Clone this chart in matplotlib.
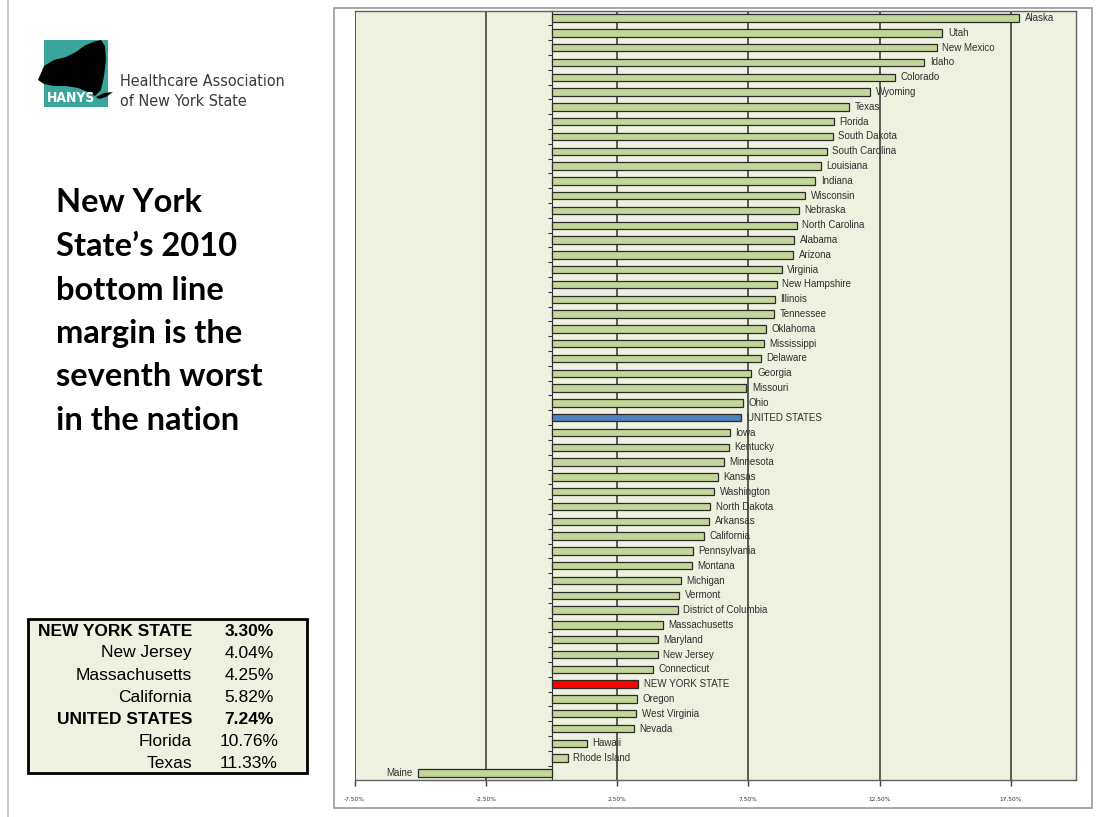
import numpy as np
import matplotlib.pyplot as plt
import matplotlib.patches as mpatches

# data (percent margin, 2010)
states = ["Alaska", "Utah", "New Mexico", "Idaho", "Colorado", "Wyoming", "Texas",
          "Florida", "South Dakota", "South Carolina", "Louisiana", "Indiana",
          "Wisconsin", "Nebraska", "North Carolina", "Alabama", "Arizona", "Virginia",
          "New Hampshire", "Illinois", "Tennessee", "Oklahoma", "Mississippi",
          "Delaware", "Georgia", "Missouri", "Ohio", "UNITED STATES", "Iowa",
          "Kentucky", "Minnesota", "Kansas", "Washington", "North Dakota", "Arkansas",
          "California", "Pennsylvania", "Montana", "Michigan", "Vermont",
          "District of Columbia", "Massachusetts", "Maryland", "New Jersey",
          "Connecticut", "NEW YORK STATE", "Oregon", "West Virginia", "Nevada",
          "Hawaii", "Rhode Island", "Maine"]
margins = [17.83, 14.89, 14.68, 14.20, 13.09, 12.14, 11.33,
           10.76, 10.72, 10.49, 10.26, 10.05,
           9.66, 9.42, 9.34, 9.24, 9.22, 8.77,
           8.58, 8.50, 8.47, 8.17, 8.10,
           7.98, 7.62, 7.43, 7.30, 7.24, 6.80,
           6.76, 6.58, 6.35, 6.20, 6.04, 6.00,
           5.82, 5.38, 5.36, 4.92, 4.86,
           4.81, 4.25, 4.06, 4.04,
           3.86, 3.30, 3.27, 3.22, 3.13,
           1.34, 0.62, -5.08]

table_names = ["NEW YORK STATE", "New Jersey", "Massachusetts", "California",
               "UNITED STATES", "Florida", "Texas"]
table_vals = ["3.30%", "4.04%", "4.25%", "5.82%", "7.24%", "10.76%", "11.33%"]
table_bold = [True, False, False, False, True, False, False]

heading = ["New York", "State\u2019s 2010", "bottom line", "margin is the",
           "seventh worst", "in the nation"]

xticks = [-7.5, -2.5, 2.5, 7.5, 12.5, 17.5]

W, H = 1102, 817
fig = plt.figure(figsize=(W / 100, H / 100), dpi=100)
fig.patch.set_facecolor("white")


def fx(px):
    return px / W


def fy(py):
    return 1 - py / H


# slide edge and chart frame
fig.add_artist(plt.Line2D([fx(8), fx(8)], [0, 1], color="#c8c8c8", lw=1.5))
fig.add_artist(mpatches.Rectangle((fx(334), fy(808)), fx(1092 - 334), (808 - 8) / H,
                                  transform=fig.transFigure, fill=False,
                                  edgecolor="#9a9a9a", lw=1.2))

ax = fig.add_axes([fx(354.7), fy(780.4), fx(1076.3 - 354.7), (780.4 - 10.6) / H])
ax.set_facecolor("#eef0e0")

y = np.arange(len(states))
colors = []
for s in states:
    if s == "UNITED STATES":
        colors.append("#4f81bd")
    elif s == "NEW YORK STATE":
        colors.append("#ff0000")
    else:
        colors.append("#c4d79b")
ax.barh(y, margins, height=0.5, color=colors, edgecolor="#2b2b2b", linewidth=0.9,
        zorder=3)

for yi, v, s in zip(y, margins, states):
    if v >= 0:
        ax.annotate(s, (v, yi), xytext=(4, 0), textcoords="offset points",
                    ha="left", va="center", fontsize=7, color="#303030",
                    family="Liberation Sans", zorder=4)
    else:
        ax.annotate(s, (v, yi), xytext=(-4, 0), textcoords="offset points",
                    ha="right", va="center", fontsize=7, color="#303030",
                    family="Liberation Sans", zorder=4)

ax.set_xlim(-7.5, 20)
ax.set_ylim(len(states) - 0.5, -0.5)
ax.set_xticks(xticks)
ax.set_xticklabels(["%.2f%%" % t for t in xticks], fontsize=4.2, color="#303030")
ax.tick_params(axis="x", length=4, width=1, color="#404040", pad=8)
ax.grid(axis="x", color="#404040", lw=1.2, zorder=1)
ax.set_axisbelow(True)

ax.spines["left"].set_position(("data", 0))
ax.spines["left"].set_color("#303030")
ax.spines["left"].set_zorder(2)
ax.set_yticks(np.arange(-0.5, len(states), 1.0))
ax.set_yticklabels([])
ax.tick_params(axis="y", length=3, width=0.8, color="#303030", direction="out")
for sp in ["top", "right", "bottom"]:
    ax.spines[sp].set_color("#606060")
    ax.spines[sp].set_linewidth(1)

# logo
fig.add_artist(mpatches.Rectangle((fx(44), fy(107)), fx(64), 67 / H,
                                  transform=fig.transFigure, color="#3aa59a", lw=0))
ny_shape = [(38, 80), (44, 66), (54, 60), (66, 57), (76, 52), (84, 46), (93, 42),
            (101, 40), (105, 46), (106, 60), (104, 76), (101, 90), (95, 96),
            (88, 92), (78, 88), (66, 86), (54, 86), (44, 84)]
fig.add_artist(mpatches.Polygon([(fx(a), fy(b)) for a, b in ny_shape],
                                transform=fig.transFigure, color="black", lw=0))
leaf = [(96, 97), (104, 93), (113, 92), (106, 97), (99, 99)]
fig.add_artist(mpatches.Polygon([(fx(a), fy(b)) for a, b in leaf],
                                transform=fig.transFigure, color="black", lw=0))
fig.text(fx(47), fy(98), "HANYS", fontsize=10, fontweight="bold", color="white",
         va="center", ha="left", family="DejaVu Sans", fontstretch="condensed")
fig.text(fx(120), fy(81), "Healthcare Association", fontsize=11.5, color="#3a3a3a",
         va="center", ha="left", family="DejaVu Sans", fontstretch="condensed")
fig.text(fx(120), fy(101), "of New York State", fontsize=11.5, color="#3a3a3a",
         va="center", ha="left", family="DejaVu Sans", fontstretch="condensed")

# heading
for i, line in enumerate(heading):
    fig.text(fx(56), fy(203 + i * 43.5), line, fontsize=23.5, fontweight="bold",
             color="black", va="center", ha="left", family="Lato")

# small table
fig.add_artist(mpatches.Rectangle((fx(28), fy(773)), fx(307 - 28), (773 - 619) / H,
                                  transform=fig.transFigure, facecolor="#eef0e0",
                                  edgecolor="black", lw=2))
for i, (n, v, b) in enumerate(zip(table_names, table_vals, table_bold)):
    yy = fy(631 + i * 22)
    w = "bold" if b else "normal"
    fig.text(fx(192), yy, n, fontsize=12.5, fontweight=w, ha="right", va="center",
             color="black", family="Liberation Sans")
    fig.text(fx(249), yy, v, fontsize=12.5, fontweight=w, ha="center", va="center",
             color="black", family="Liberation Sans")

fig.savefig("out.png", dpi=100)
